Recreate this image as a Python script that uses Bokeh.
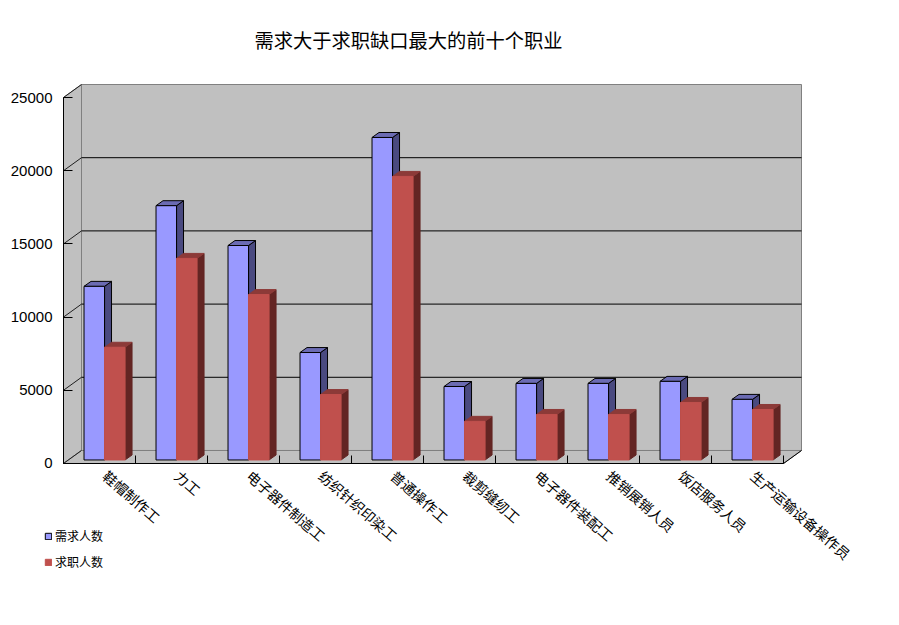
from bokeh.plotting import figure
from bokeh.models import Range1d, FixedTicker, Legend, LegendItem, Label
from bokeh.embed import file_html
from bokeh.resources import INLINE
import math

title = "需求大于求职缺口最大的前十个职业"
categories = ["鞋帽制作工", "力工", "电子器件制造工", "纺织针织印染工", "普通操作工",
              "裁剪缝纫工", "电子器件装配工", "推销展销人员", "饭店服务人员", "生产运输设备操作员"]
demand = [11860, 17370, 14650, 7340, 22030, 5020, 5230, 5230, 5370, 4140]
seekers = [7700, 13770, 11300, 4470, 19370, 2640, 3110, 3110, 3930, 3450]
y_ticks = [0, 5000, 10000, 15000, 20000, 25000]
series_names = ["需求人数", "求职人数"]

FONT_CJK = "Noto Sans CJK SC"
YMAX = 25000
WALL_DX, WALL_DY = 0.25, 888      # depth of the chart box, in data units
BAR_W, BAR_START = 0.285, 0.285   # bar width and first-bar inset within a category
BAR_DX, BAR_DY = 0.097, 340       # depth of each bar
BASE = 240                        # bars stand slightly behind the front plane
X_PAD_L, X_PAD_R = 0.875, 1.347   # room in the frame around the box for labels and legend
Y_PAD_B, Y_PAD_T = 9700, 5738
LABEL_SHIFT = 0.58                # where a category label starts within its slot

n = len(categories)
p = figure(width=880, height=605, output_backend="svg", toolbar_location=None,
           x_range=Range1d(-X_PAD_L, n + X_PAD_R),
           y_range=Range1d(-Y_PAD_B, YMAX + WALL_DY + Y_PAD_T),
           min_border=0, min_border_left=0, min_border_right=0, min_border_top=0, min_border_bottom=0,
           outline_line_color=None, background_fill_color="white", border_fill_color="white")
p.grid.visible = False

WALL, EDGE = "#C0C0C0", "#808080"
# back wall, left wall, floor
p.patches(
    xs=[[WALL_DX, n + WALL_DX, n + WALL_DX, WALL_DX],
        [0, WALL_DX, WALL_DX, 0],
        [0, WALL_DX, n + WALL_DX, n]],
    ys=[[WALL_DY, WALL_DY, YMAX + WALL_DY, YMAX + WALL_DY],
        [0, WALL_DY, YMAX + WALL_DY, YMAX],
        [0, WALL_DY, WALL_DY, 0]],
    fill_color=WALL, line_color=EDGE, line_width=1)

# gridlines on the back wall and their returns across the left wall
grid = y_ticks[1:-1]
p.segment(x0=[WALL_DX] * len(grid), x1=[n + WALL_DX] * len(grid),
          y0=[t + WALL_DY for t in grid], y1=[t + WALL_DY for t in grid],
          line_color="black", line_width=1)
p.segment(x0=[0] * len(y_ticks), x1=[WALL_DX] * len(y_ticks),
          y0=y_ticks, y1=[t + WALL_DY for t in y_ticks], line_color="#202020", line_width=1)
p.segment(x0=[n], x1=[n + WALL_DX], y0=[0], y1=[WALL_DY], line_color="black", line_width=1)


def bars(values, slot, front, top, side, line):
    lefts = [i + BAR_START + slot * BAR_W for i in range(n)]
    rights = [x + BAR_W for x in lefts]
    tops = [v + BASE for v in values]
    p.patches(xs=[[r, r + BAR_DX, r + BAR_DX, r] for r in rights],
              ys=[[BASE, BASE + BAR_DY, t + BAR_DY, t] for t in tops],
              fill_color=side, line_color=line if line else side, line_width=1)
    p.patches(xs=[[l, l + BAR_DX, r + BAR_DX, r] for l, r in zip(lefts, rights)],
              ys=[[t, t + BAR_DY, t + BAR_DY, t] for t in tops],
              fill_color=top, line_color=line if line else top, line_width=1)
    return p.quad(left=lefts, right=rights, bottom=[BASE] * n, top=tops,
                  fill_color=front, line_color=line if line else front, line_width=1)


r_demand = bars(demand, 0, "#9999FF", "#6B6BB3", "#4A4A80", "black")
r_seek = bars(seekers, 1, "#C0504D", "#8C3A38", "#632523", None)

xa = p.xaxis[0]
xa.fixed_location = 0
xa.bounds = (0, n)
label_pos = [i + LABEL_SHIFT for i in range(n)]
xa.ticker = FixedTicker(ticks=label_pos, minor_ticks=list(range(n + 1)))
xa.major_label_overrides = {x: c for x, c in zip(label_pos, categories)}
xa.major_label_orientation = -math.radians(41)
xa.major_label_text_font = FONT_CJK
xa.major_label_text_font_size = "14px"
xa.major_label_text_color = "black"
xa.major_label_standoff = 4
xa.major_tick_line_color = None
xa.minor_tick_in = 8
xa.minor_tick_out = 0
xa.minor_tick_line_color = "black"
xa.axis_line_color = "black"

ya = p.yaxis[0]
ya.fixed_location = 0
ya.bounds = (0, YMAX)
ya.ticker = FixedTicker(ticks=y_ticks)
ya.major_tick_in = 9
ya.major_tick_out = 0
ya.major_tick_line_color = "black"
ya.minor_tick_line_color = None
ya.axis_line_color = "black"
ya.major_label_text_font = "Liberation Sans"
ya.major_label_text_font_size = "15px"
ya.major_label_text_color = "black"
ya.major_label_standoff = 11

p.add_layout(Label(x=254, y=566, x_units="screen", y_units="screen", text=title,
                   text_font=FONT_CJK, text_font_size="19.25px", text_color="black",
                   text_align="left", text_baseline="middle"))

legend = Legend(items=[LegendItem(label=series_names[0], renderers=[r_demand]),
                       LegendItem(label=series_names[1], renderers=[r_seek])],
                location=(44, 35), orientation="vertical",
                glyph_width=8, glyph_height=8, spacing=9,
                label_text_font=FONT_CJK, label_text_font_size="12px",
                label_text_color="black",
                label_standoff=3, label_height=16,
                background_fill_alpha=0, border_line_color=None,
                padding=4, margin=0)
p.add_layout(legend, "center")

open("out.html", "w").write(file_html(p, INLINE))
